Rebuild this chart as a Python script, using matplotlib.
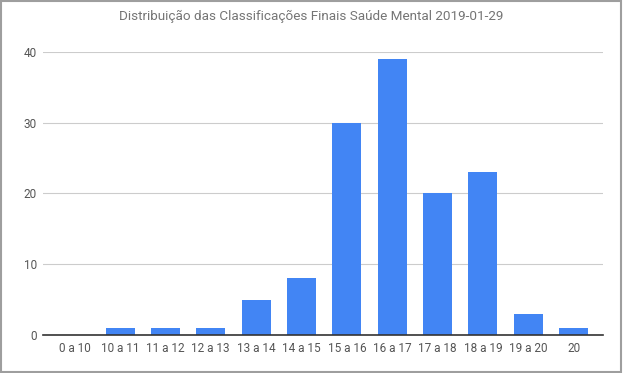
import matplotlib.pyplot as plt
from matplotlib.patches import Rectangle

categorias = ['0 a 10', '10 a 11', '11 a 12', '12 a 13', '13 a 14', '14 a 15',
              '15 a 16', '16 a 17', '17 a 18', '18 a 19', '19 a 20', '20']
contagens = [0, 1, 1, 1, 5, 8, 30, 39, 20, 23, 3, 1]

plt.rcParams['font.family'] = ['Roboto', 'DejaVu Sans']

fig = plt.figure(figsize=(6.23, 3.73), dpi=100)
ax = fig.add_axes([0.069, 0.1019, 0.899, 0.7587])

x = range(len(categorias))
ax.bar(x, contagens, width=0.64, color='#4285f4', zorder=3)

ax.set_xlim(-0.7, 11.65)
ax.set_ylim(0, 40)
ax.set_yticks([0, 10, 20, 30, 40])
ax.set_xticks(list(x))
ax.set_xticklabels(categorias)
ax.tick_params(axis='both', length=0, labelsize=8.5, labelcolor='#555555')
ax.tick_params(axis='x', pad=5)
ax.tick_params(axis='y', pad=4.5)

ax.grid(axis='y', color='#cccccc', linewidth=0.8, zorder=0)
for s in ['top', 'right', 'left']:
    ax.spines[s].set_visible(False)
ax.spines['bottom'].set_color('#333333')
ax.spines['bottom'].set_linewidth(1.2)
ax.spines['bottom'].set_zorder(4)

fig.text(0.5, 0.957, 'Distribuição das Classificações Finais Saúde Mental 2019-01-29',
         ha='center', va='center', fontsize=9.7, color='#757575')

fig.patches.append(Rectangle((0.001, 0.004), 0.996, 0.994, transform=fig.transFigure,
                             fill=False, edgecolor='#9e9e9e', linewidth=1.5))

fig.savefig('out.png', dpi=100)
